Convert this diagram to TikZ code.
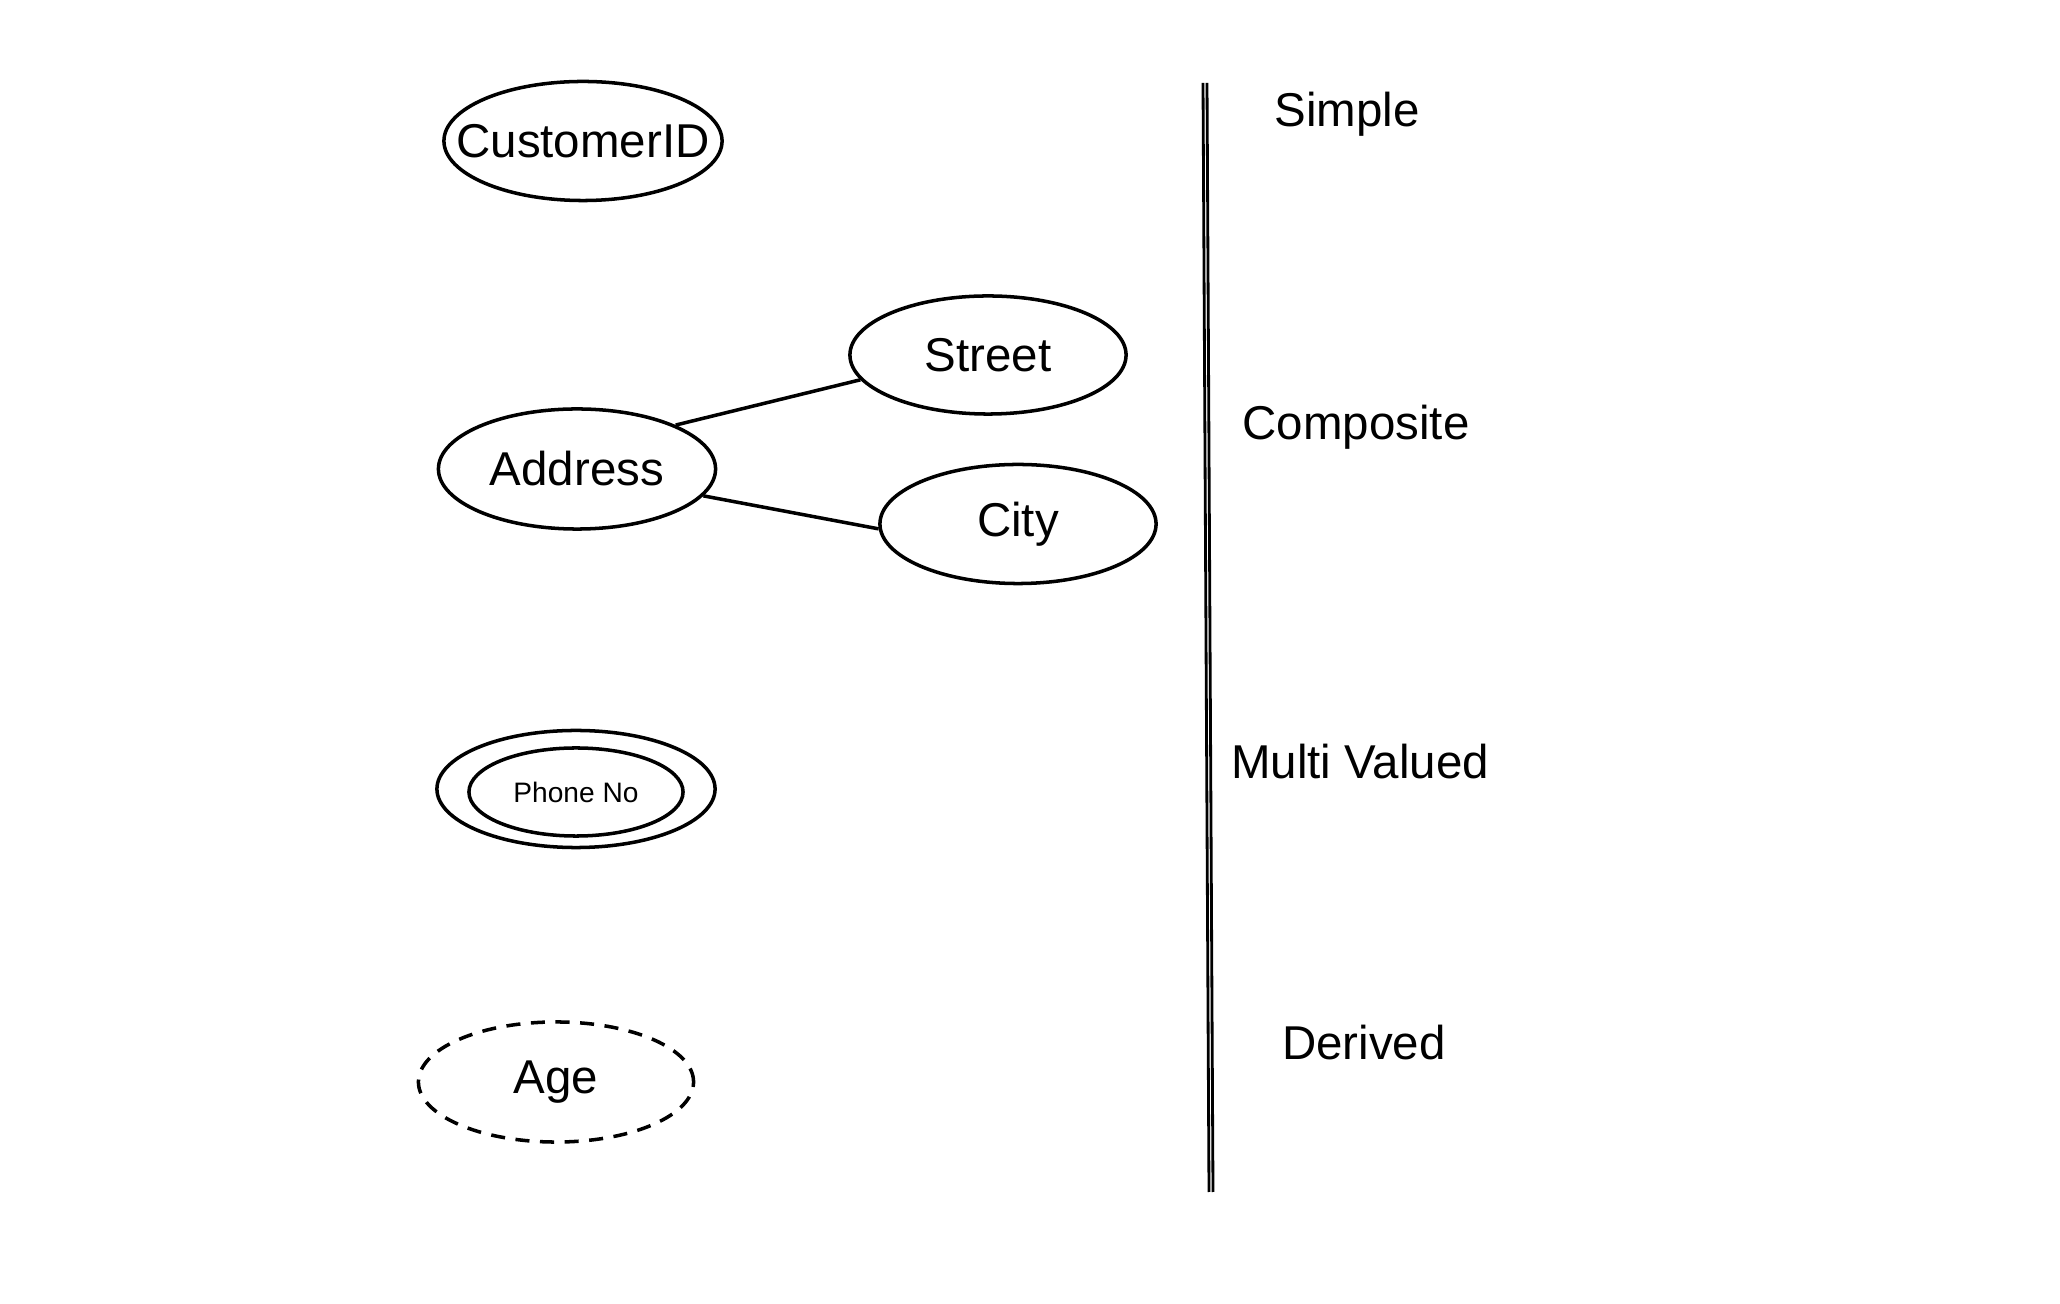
\documentclass[tikz,border=0pt]{standalone}
\usepackage{fontspec}
\setmainfont{Liberation Sans}
\usetikzlibrary{shapes.geometric}
\begin{document}
\begin{tikzpicture}[x=0.01cm,y=-0.01cm,
  attr/.style={ellipse, draw, line width=1pt, inner sep=0pt},
  txt/.style={font=\fontsize{13.5}{16}\selectfont, inner sep=0pt},
  lbl/.style={font=\fontsize{13.5}{16}\selectfont, inner sep=0pt},
  link/.style={line width=1pt}]
\useasboundingbox (0,0) rectangle (2060,1304);
\node[attr, minimum width=2.78cm, minimum height=1.19cm, label={[txt]center:CustomerID}] (cid) at (583,141) {};
\node[attr, minimum width=2.76cm, minimum height=1.18cm, label={[txt]center:Street}] (street) at (988,355) {};
\node[attr, minimum width=2.77cm, minimum height=1.20cm, label={[txt]center:Address}] (address) at (577,469) {};
\node[attr, minimum width=2.76cm, minimum height=1.19cm, label={[txt]center:City}] (city) at (1018,524) {};
\node[attr, minimum width=2.78cm, minimum height=1.17cm] (phoneout) at (576,789) {};
\node[attr, minimum width=2.14cm, minimum height=0.88cm, label={[txt, font=\fontsize{8}{10}\selectfont]center:Phone No}] (phone) at (576,792) {};
\node[attr, dashed, dash pattern=on 4pt off 3pt, minimum width=2.75cm, minimum height=1.20cm, label={[txt]center:Age}] (age) at (556,1082) {};
\draw[link] (address.24) -- (street.191);
\draw[link] (address.-12) -- (city.182);
\coordinate (vt1) at (1203,83);
\coordinate (vb1) at (1209,1192);
\coordinate (vt2) at (1207,83);
\coordinate (vb2) at (1213,1192);
\draw[line width=0.8pt] (vt1) -- (vb1);
\draw[line width=0.8pt] (vt2) -- (vb2);
\node[lbl] (simple) at (1347,114) {Simple};
\node[lbl] (composite) at (1356,427) {Composite};
\node[lbl] (multi) at (1360,762) {Multi Valued};
\node[lbl] (derived) at (1364,1043) {Derived};
\end{tikzpicture}
\end{document}
